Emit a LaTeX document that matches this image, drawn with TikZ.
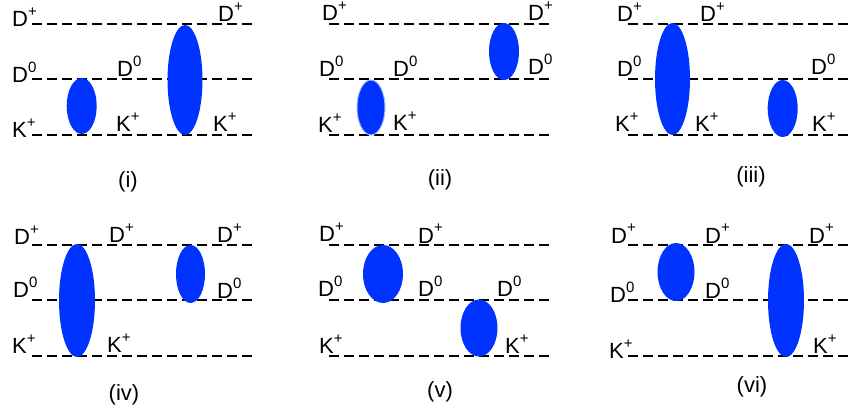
\documentclass[tikz,border=0pt]{standalone}
\usepackage{fontspec}
\setmainfont{Liberation Sans}
\usetikzlibrary{shapes.geometric}
\definecolor{blobblue}{RGB}{0,51,255}
\newcommand\upsc[1]{\raisebox{10pt}{\fontsize{15}{15}\selectfont #1}}
\begin{document}
\begin{tikzpicture}[x=1pt,y=-1pt,
  lvl/.style={line width=2.4pt, dash pattern=on 10pt off 5pt, black},
  lab/.style={anchor=base west, inner sep=0pt, font=\fontsize{22}{26}\selectfont},
  capt/.style={anchor=center, inner sep=0pt, font=\fontsize{22}{26}\selectfont},
  blob/.style={ellipse, fill=blobblue, inner sep=0pt, draw=none}]
\useasboundingbox (0,0) rectangle (849,417);
\fill[white] (0,0) rectangle (849,417);

% dashed levels
\foreach \p/\xa/\xb/\ya/\yb/\yc in {i/32/252/24/79/135, ii/329/550/24/79/135, iii/628/849/24/79/135,
                                    iv/32/252/245/300/356, v/329/550/245/300/356, vi/628/849/245/300/356}{
  \foreach \k/\yy in {t/\ya, m/\yb, b/\yc}{
    \coordinate (\p-\k-L) at (\xa,\yy);
    \coordinate (\p-\k-R) at (\xb,\yy);
    \draw[lvl] (\p-\k-L) -- (\p-\k-R);
  }
}

% blobs
\node[blob, minimum width=30, minimum height=56] (i-e1) at (81.7,106) {};
\node[blob, minimum width=35, minimum height=110] (i-e2) at (185,80) {};
\node[blob, draw=blobblue!35, line width=1pt, minimum width=28, minimum height=55] (ii-e1) at (371,107.5) {};
\node[blob, minimum width=30, minimum height=57] (ii-e2) at (504,51.5) {};
\node[blob, minimum width=35, minimum height=112] (iii-e1) at (672.5,79) {};
\node[blob, minimum width=30, minimum height=57] (iii-e2) at (782.7,108.5) {};
\node[blob, minimum width=36, minimum height=113] (iv-e1) at (77,300.5) {};
\node[blob, minimum width=29, minimum height=58] (iv-e2) at (190.5,274) {};
\node[blob, minimum width=40, minimum height=58] (v-e1) at (383,274) {};
\node[blob, minimum width=37, minimum height=57] (v-e2) at (479,328) {};
\node[blob, minimum width=37, minimum height=58] (vi-e1) at (676,272) {};
\node[blob, minimum width=36, minimum height=113] (vi-e2) at (786,300.5) {};

% labels (i)
\node[lab] (i-l1) at (12,27) {D\upsc{+}};
\node[lab] (i-l2) at (12,83) {D\upsc{0}};
\node[lab] (i-l3) at (12,138) {K\upsc{+}};
\node[lab] (i-l4) at (117,77) {D\upsc{0}};
\node[lab] (i-l5) at (116,132) {K\upsc{+}};
\node[lab] (i-l6) at (218,22) {D\upsc{+}};
\node[lab] (i-l7) at (213,132) {K\upsc{+}};
\node[capt] (i-c) at (128,182) {(i)};

% labels (ii)
\node[lab] (ii-l1) at (322,21) {D\upsc{+}};
\node[lab] (ii-l2) at (319,77) {D\upsc{0}};
\node[lab] (ii-l3) at (318,133) {K\upsc{+}};
\node[lab] (ii-l4) at (393,77) {D\upsc{0}};
\node[lab] (ii-l5) at (393,131) {K\upsc{+}};
\node[lab] (ii-l6) at (528,21) {D\upsc{+}};
\node[lab] (ii-l7) at (528,75) {D\upsc{0}};
\node[capt] (ii-c) at (440,180) {(ii)};

% labels (iii)
\node[lab] (iii-l1) at (617,22) {D\upsc{+}};
\node[lab] (iii-l2) at (617,77) {D\upsc{0}};
\node[lab] (iii-l3) at (615,132) {K\upsc{+}};
\node[lab] (iii-l4) at (700,22) {D\upsc{+}};
\node[lab] (iii-l5) at (695,132) {K\upsc{+}};
\node[lab] (iii-l6) at (811,75) {D\upsc{0}};
\node[lab] (iii-l7) at (812,132) {K\upsc{+}};
\node[capt] (iii-c) at (751,177) {(iii)};

% labels (iv)
\node[lab] (iv-l1) at (14,244) {D\upsc{+}};
\node[lab] (iv-l2) at (13,297) {D\upsc{0}};
\node[lab] (iv-l3) at (12,353) {K\upsc{+}};
\node[lab] (iv-l4) at (109,242) {D\upsc{+}};
\node[lab] (iv-l5) at (107,352) {K\upsc{+}};
\node[lab] (iv-l6) at (217,242) {D\upsc{+}};
\node[lab] (iv-l7) at (217,298) {D\upsc{0}};
\node[capt] (iv-c) at (124,395) {(iv)};

% labels (v)
\node[lab] (v-l1) at (319,241) {D\upsc{+}};
\node[lab] (v-l2) at (318,296) {D\upsc{0}};
\node[lab] (v-l3) at (319,353) {K\upsc{+}};
\node[lab] (v-l4) at (418,243) {D\upsc{+}};
\node[lab] (v-l5) at (418,296) {D\upsc{0}};
\node[lab] (v-l6) at (497,296) {D\upsc{0}};
\node[lab] (v-l7) at (505,353) {K\upsc{+}};
\node[capt] (v-c) at (440,392) {(v)};

% labels (vi)
\node[lab] (vi-l1) at (611,243) {D\upsc{+}};
\node[lab] (vi-l2) at (610,302) {D\upsc{0}};
\node[lab] (vi-l3) at (609,358) {K\upsc{+}};
\node[lab] (vi-l4) at (705,243) {D\upsc{+}};
\node[lab] (vi-l5) at (705,298) {D\upsc{0}};
\node[lab] (vi-l6) at (809,243) {D\upsc{+}};
\node[lab] (vi-l7) at (813,353) {K\upsc{+}};
\node[capt] (vi-c) at (752,387) {(vi)};
\end{tikzpicture}
\end{document}
